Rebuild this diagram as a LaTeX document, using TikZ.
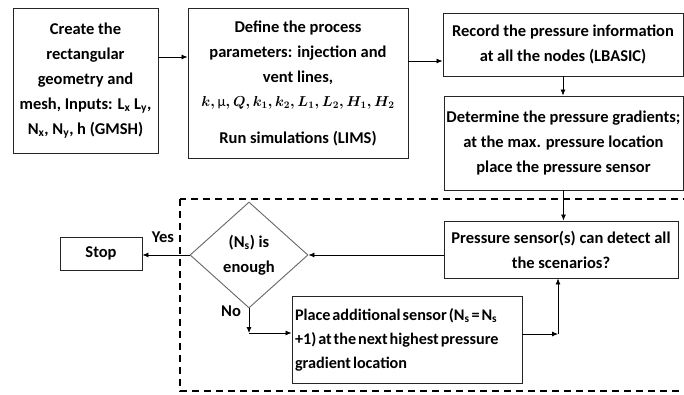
\documentclass[tikz,border=0pt]{standalone}
\usepackage{amsmath}
\usepackage{fontspec}
\setmainfont{Carlito}
\usetikzlibrary{arrows.meta,shapes.geometric,calc}
\newcommand{\tightsp}{\spaceskip=0.12em plus 0.05em\relax}
\begin{document}
\begin{tikzpicture}[x=1pt,y=-1pt,
  box/.style={draw=black!85,line width=0.9pt,align=center,inner sep=2pt,
    font=\fontsize{16.5}{25}\selectfont\bfseries},
  arr/.style={line width=0.8pt,-{Latex[length=6pt,width=5pt]}},
  lbl/.style={font=\fontsize{16.5}{16}\selectfont\bfseries}]
\useasboundingbox (0,0) rectangle (684,394);
\draw[dashed,line width=1.1pt,dash pattern=on 7pt off 5pt] (180,199) rectangle (705,391);
\node[box,minimum width=145,minimum height=145] (b1) at (85.5,80.5)
  {Create the\\rectangular\\geometry and\\mesh, Inputs: L\textsubscript{x} L\textsubscript{y},\\N\textsubscript{x}, N\textsubscript{y}, h (GMSH)};
\node[box,minimum width=220,minimum height=150] (b2) at (298,83)
  {Define the process\\parameters: injection and\\vent lines,\\[-1pt]
   {\fontsize{14.5}{16}\selectfont\boldmath$k,\text{\mdseries µ},Q,k_1,k_2,L_1,L_2,H_1,H_2$}\\[12pt]Run simulations (LIMS)};
\node[box,minimum width=240,minimum height=63] (b3) at (563,44.5)
  {Record the pressure information\\at all the nodes (LBASIC)};
\node[box,minimum width=239,minimum height=94] (b4) at (563.5,143)
  {Determine the pressure gradients;\\at the max. pressure location\\place the pressure sensor};
\node[box,minimum width=234,minimum height=57] (b5) at (561,249.5)
  {Pressure sensor(s) can detect all\\the scenarios?};
\node[draw=black!60,line width=0.9pt,diamond,minimum width=118,minimum height=106,inner sep=0pt,
  align=center,font=\fontsize{16.5}{25}\selectfont\bfseries] (dia) at (249,255)
  {(N\textsubscript{s}) is\\enough};
\node[box,minimum width=82,minimum height=33] (stop) at (101,253.5) {Stop};
\node[box,minimum width=230,minimum height=87,align=left,text width=224,
  font=\fontsize{16.2}{24}\selectfont\bfseries] (b6) at (407,339.5)
  {\tightsp Place additional sensor (N\textsubscript{s} = N\textsubscript{s}\\\tightsp +1) at the next highest pressure\\\tightsp gradient location};
\coordinate (c1) at (249,333);
\coordinate (c2) at (558,334);
\draw[arr] ([yshift=23.5pt]b1.east) -- ([yshift=23.5pt]b1.east -| b2.west);
\draw[arr] ([yshift=22pt]b2.east) -- ([yshift=22pt]b2.east -| b3.west);
\draw[arr] (b3.south) -- (b3.south |- b4.north);
\draw[arr] (b4.south) -- (b4.south |- b5.north);
\draw[arr] (b5.west |- dia.east) -- (dia.east);
\draw[arr] (dia.west) -- (dia.west -| stop.east);
\draw[arr] (dia.south) -- (c1);
\draw[arr] (c1) -- (c1 -| b6.west);
\draw[arr] (c2 -| b6.east) -- (c2);
\draw[arr] (c2) -- (c2 |- b5.south);
\node[lbl] (yes) at (163,237) {Yes};
\node[lbl] (no) at (231,311) {No};
\end{tikzpicture}
\end{document}
